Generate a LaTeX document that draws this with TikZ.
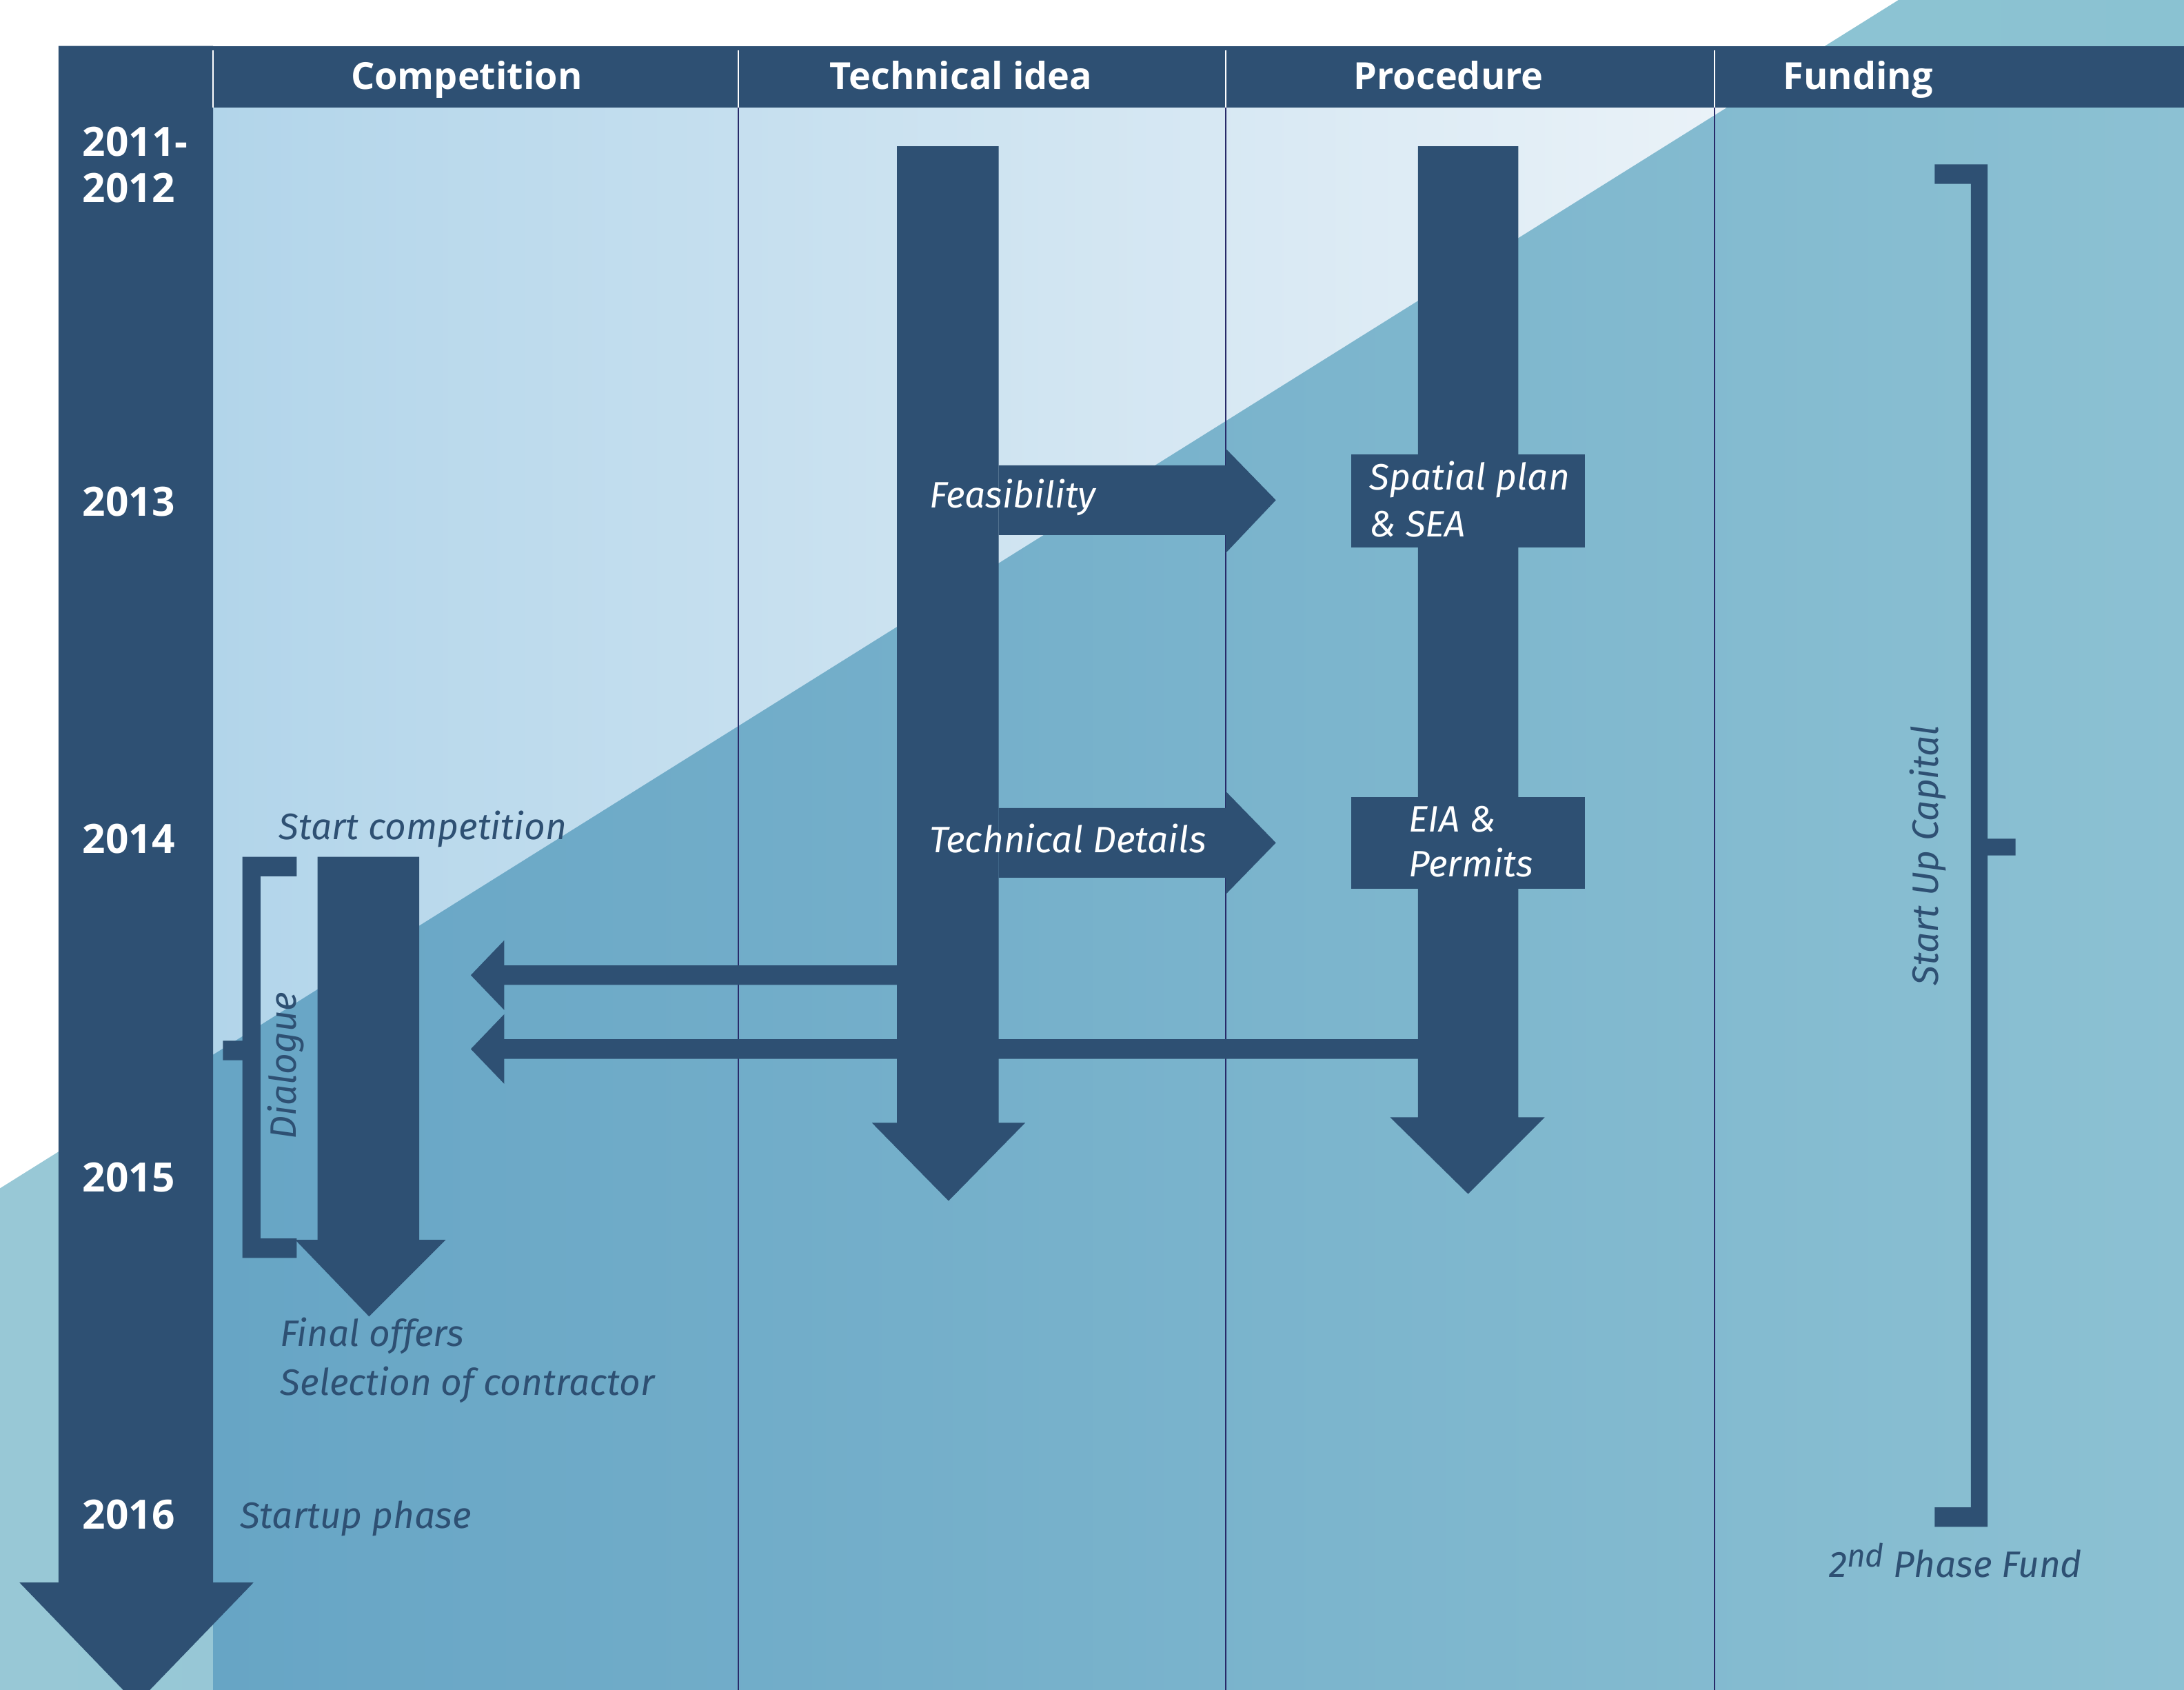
\documentclass[tikz,border=0pt]{standalone}
\usepackage{fontspec}
\setmainfont{Open Sans}
\newfontfamily\lblfont{Fira Sans}
\definecolor{navy}{RGB}{46,80,115}
\definecolor{divline}{RGB}{40,42,105}
\definecolor{tealL}{RGB}{152,200,214}
\definecolor{tealR}{RGB}{138,194,210}
\definecolor{lowL}{RGB}{103,165,197}
\definecolor{lowR}{RGB}{140,193,211}
\definecolor{paleL}{RGB}{178,213,234}
\definecolor{paleR}{RGB}{234,242,248}
\begin{document}
\begin{tikzpicture}[x=0.02cm,y=-0.02cm,
  hdr/.style={text=white, font=\fontsize{15.2}{18}\selectfont\bfseries, inner sep=0, anchor=base},
  yr/.style={text=white, font=\fontsize{16.5}{18.8}\selectfont\bfseries, anchor=west, align=left, inner sep=0},
  lbl/.style={text=navy, font=\lblfont\itshape\fontsize{15}{20}\selectfont, inner sep=0},
  wlbl/.style={lbl, text=white},
  blk/.style={fill=navy},
  divl/.style={draw=divline, line width=0.6pt},
  hdiv/.style={draw=white, line width=0.6pt},
  boxn/.style={fill=navy, inner sep=0, minimum width=3.36cm}]
\useasboundingbox (0,0) rectangle (1568,1213);
% background
\fill[white] (0,0) rectangle (1568,1213);
\shade[left color=tealL, right color=tealR] (0,853) -- (1363,0) -- (1568,0) -- (1568,1213) -- (0,1213) -- cycle;
\shade[left color=lowL, right color=lowR] (153,77) rectangle (1568,1213);
\shade[left color=paleL, right color=paleR] (153,77) -- (1240,77) -- (153,757) -- cycle;
% column dividers
\foreach \xx in {530,880,1231} \path[divl] (\xx,77) -- (\xx,1213);
% header bar and time column
\fill[navy] (42,33) rectangle (1568,77);
\fill[navy] (42,33) -- (153,33) -- (153,1136) -- (182,1136) -- (98,1223) -- (14,1136) -- (42,1136) -- cycle;
\foreach \xx in {153,530,880,1231} \path[hdiv] (\xx,36) -- (\xx,77);
% headers
\node[hdr] (hComp) at (335,64) {Competition};
\node[hdr] (hTech) at (690,64) {Technical idea};
\node[hdr] (hProc) at (1040,64) {Procedure};
\node[hdr] (hFund) at (1334,64) {Funding};
% years
\node[yr] (y1112) at (59,118.5) {2011-\\2012};
\node[yr] (y13) at (59,360) {2013};
\node[yr] (y14) at (59,602) {2014};
\node[yr] (y15) at (59,845) {2015};
\node[yr] (y16) at (59,1087) {2016};
% competition column
\fill[blk] (213,615) -- (174,615) -- (174,747) -- (160,747) -- (160,761) -- (174,761) -- (174,903) -- (213,903) -- (213,889) -- (187,889) -- (187,629) -- (213,629) -- cycle;
\fill[blk] (228,615) -- (301,615) -- (301,890) -- (320,890) -- (265,945) -- (212,890) -- (228,890) -- cycle;
\node[lbl, anchor=west] (lStart) at (200,595) {Start competition};
\node[lbl, rotate=90] (lDial) at (205,765) {Dialogue};
\node[lbl, anchor=west] (lFinal) at (201,959) {Final offers};
\node[lbl, anchor=west] (lSel) at (201,994) {Selection of contractor};
\node[lbl, anchor=west] (lStartup) at (172,1090) {Startup phase};
% technical idea column
\fill[blk] (644,105) -- (717,105) -- (717,806) -- (736,806) -- (681,862) -- (626,806) -- (644,806) -- cycle;
\fill[blk] (717,334) -- (880,334) -- (880,322) -- (916,359) -- (880,397) -- (880,384) -- (717,384) -- cycle;
\fill[blk] (717,580) -- (880,580) -- (880,568) -- (916,605) -- (880,642) -- (880,630) -- (717,630) -- cycle;
\node[wlbl, anchor=west] (lFeas) at (667,357) {Feasibility};
\node[wlbl, anchor=west] (lTechD) at (667,602) {Technical Details};
% procedure column
\fill[blk] (1018,105) -- (1090,105) -- (1090,802) -- (1109,802) -- (1054,857) -- (998,802) -- (1018,802) -- cycle;
\node[boxn, minimum height=1.34cm] (bSpat) at (1054,359.5) {};
\node[boxn, minimum height=1.32cm] (bEIA) at (1054,605) {};
\node[wlbl, anchor=west] (lSpat1) at (983,344) {Spatial plan};
\node[wlbl, anchor=west] (lSpat2) at (983,376) {\& SEA};
\node[wlbl, anchor=west] (lEIA1) at (1011,588) {EIA \&};
\node[wlbl, anchor=west] (lEIA2) at (1011,619) {Permits};
% feedback arrows to competition
\fill[blk] (644,693) -- (362,693) -- (362,675) -- (338,700) -- (362,725) -- (362,707) -- (644,707) -- cycle;
\fill[blk] (1018,746) -- (362,746) -- (362,728) -- (338,753) -- (362,778) -- (362,760) -- (1018,760) -- cycle;
% funding column
\fill[blk] (1389,118) -- (1427,118) -- (1427,602) -- (1447,602) -- (1447,614) -- (1427,614) -- (1427,1096) -- (1389,1096) -- (1389,1082) -- (1415,1082) -- (1415,132) -- (1389,132) -- cycle;
\node[lbl, rotate=90] (lCap) at (1384,614) {Start Up Capital};
\node[lbl] (lFund2) at (1404,1120) {2\raisebox{0.55ex}{\fontsize{13}{13}\selectfont nd} Phase Fund};
\end{tikzpicture}
\end{document}
